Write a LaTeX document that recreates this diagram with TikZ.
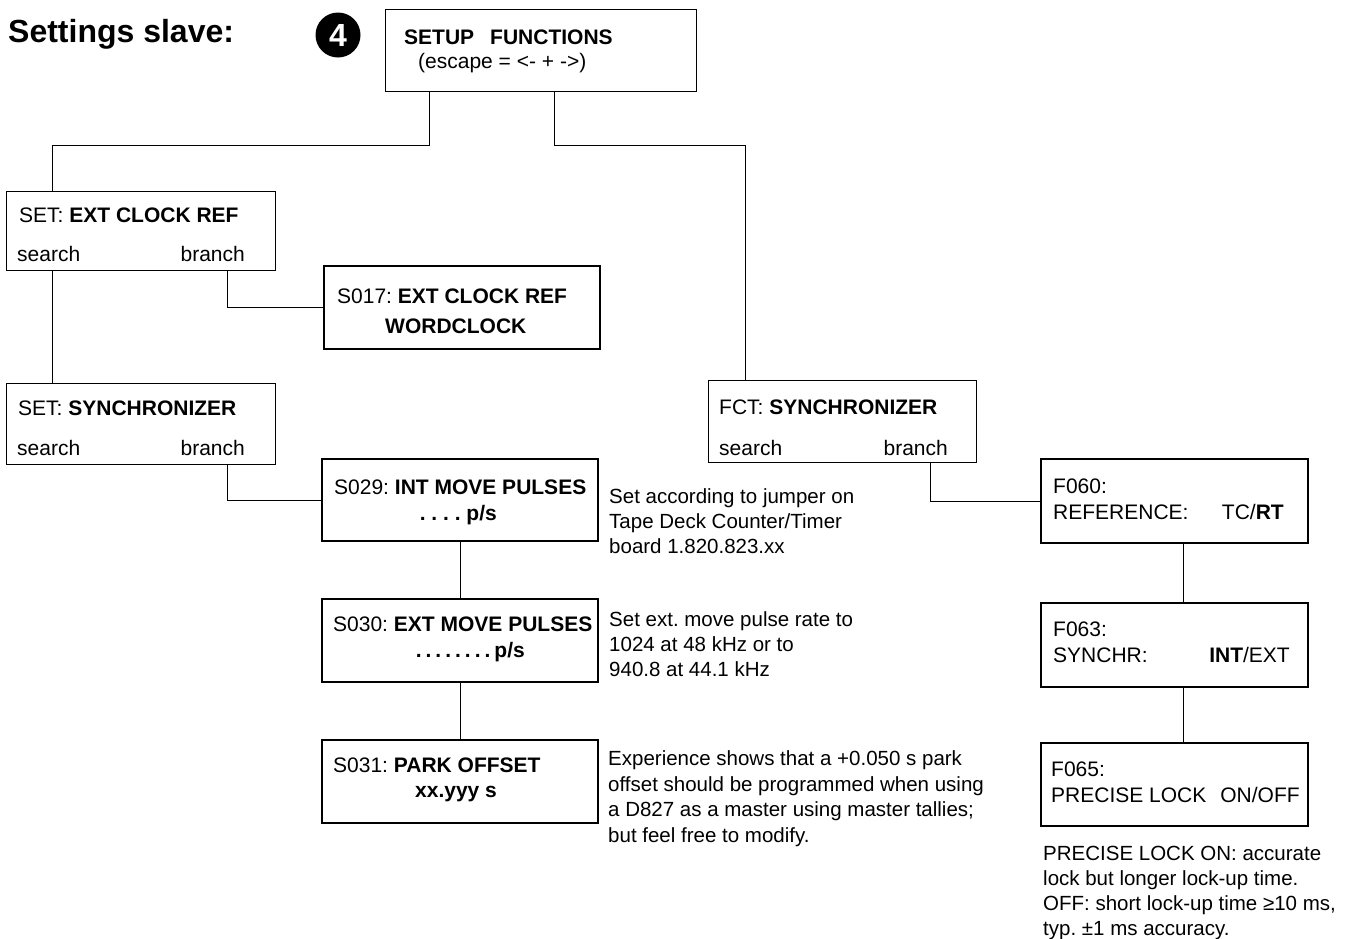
\documentclass[tikz,border=0pt]{standalone}
\usepackage{fontspec}
\setmainfont{Liberation Sans}
\frenchspacing
\begin{document}
\begin{tikzpicture}[x=1pt,y=-1pt,
  thinbox/.style={draw, line width=1pt, inner sep=0pt},
  thickbox/.style={draw, line width=2pt, inner sep=0pt},
  txt/.style={anchor=base west, inner sep=0pt, font=\fontsize{21}{26}\selectfont},
  txtr/.style={anchor=base east, inner sep=0pt, font=\fontsize{21}{26}\selectfont},
  note/.style={anchor=base west, inner sep=0pt, font=\fontsize{20.5}{25.5}\selectfont},
  link/.style={line width=1pt}]
\useasboundingbox (0,0) rectangle (1355,938);

% title
\node[anchor=base west, inner sep=0pt, font=\fontsize{32}{36}\selectfont\bfseries] (title) at (8,42) {Settings slave:};
\node[circle, fill=black, minimum size=45pt, inner sep=0pt, text=white, font=\fontsize{32}{32}\selectfont\bfseries] (num) at (338,35) {4};

% boxes
\node[thinbox, minimum width=311pt, minimum height=82pt] (setup) at (540.5,50) {};
\node[thinbox, minimum width=269pt, minimum height=79pt] (ecr) at (140.5,230.5) {};
\node[thickbox, minimum width=276pt, minimum height=83pt] (s017) at (462,307.5) {};
\node[thinbox, minimum width=269pt, minimum height=81pt] (sync) at (140.5,423.5) {};
\node[thickbox, minimum width=276pt, minimum height=82pt] (s029) at (460,500) {};
\node[thickbox, minimum width=276pt, minimum height=83pt] (s030) at (460,640.5) {};
\node[thickbox, minimum width=276pt, minimum height=83pt] (s031) at (460,781.5) {};
\node[thinbox, minimum width=268pt, minimum height=82pt] (fct) at (842,421) {};
\node[thickbox, minimum width=267pt, minimum height=84pt] (f060) at (1174,501) {};
\node[thickbox, minimum width=267pt, minimum height=84pt] (f063) at (1174,645) {};
\node[thickbox, minimum width=267pt, minimum height=83pt] (f065) at (1174,784.5) {};

% connectors
\draw[link] ([xshift=45pt]setup.south west) -- ++(0,54) -| ([xshift=47pt]ecr.north west);
\draw[link] ([xshift=170pt]setup.south west) -- ++(0,54) -| ([xshift=38pt]fct.north west);
\draw[link] ([xshift=47pt]ecr.south west) -- ([xshift=47pt]sync.north west);
\draw[link] ([xshift=222pt]ecr.south west) |- (s017.west);
\draw[link] ([xshift=222pt]sync.south west) |- (s029.west);
\draw[link] (s029.south) -- (s030.north);
\draw[link] (s030.south) -- (s031.north);
\draw[link] ([xshift=223pt]fct.south west) |- (f060.west);
\draw[link] ([xshift=9pt]f060.south) -- ([xshift=9pt]f063.north);
\draw[link] ([xshift=9pt]f063.south) -- ([xshift=9pt]f065.north);

% box texts
\node[txt] (tsetup1) at (404,44) {\bfseries SETUP\hspace{16pt}FUNCTIONS};
\node[txt] (tsetup2) at (418,68) {(escape = <- + ->)};

\node[txt] (tecr1) at (19,222) {SET: \textbf{EXT CLOCK REF}};
\node[txt] (tecr2) at (17,261) {search};
\node[txtr] (tecr3) at (245,261) {branch};

\node[txt] (ts017a) at (337,303) {S017: \textbf{EXT CLOCK REF}};
\node[txt] (ts017b) at (385,333) {\bfseries WORDCLOCK};

\node[txt] (tsync1) at (18,415) {SET: \textbf{SYNCHRONIZER}};
\node[txt] (tsync2) at (17,455) {search};
\node[txtr] (tsync3) at (245,455) {branch};

\node[txt] (ts029a) at (334,494) {S029: \textbf{INT MOVE PULSES}};
\node[txtr] (ts029b) at (497,520) {\bfseries . . . . p/s};

\node[txt] (ts030a) at (333,631) {S030: \textbf{EXT MOVE PULSES}};
\node[txtr] (ts030b) at (525,657) {\bfseries .\hspace{4pt}.\hspace{4pt}.\hspace{4pt}.\hspace{4pt}.\hspace{4pt}.\hspace{4pt}.\hspace{4pt}.\hspace{4pt}p/s};

\node[txt] (ts031a) at (333,772) {S031: \textbf{PARK OFFSET}};
\node[txt] (ts031b) at (415,797) {\bfseries xx.yyy s};

\node[txt] (tfct1) at (719,414) {FCT: \textbf{SYNCHRONIZER}};
\node[txt] (tfct2) at (719,455) {search};
\node[txtr] (tfct3) at (948,455) {branch};

\node[txt] (tf060a) at (1053,493) {F060:};
\node[txt] (tf060b) at (1053,519) {REFERENCE:};
\node[txtr] (tf060c) at (1284,519) {TC/\textbf{RT}};

\node[txt] (tf063a) at (1053,636) {F063:};
\node[txt] (tf063b) at (1053,662) {SYNCHR:};
\node[txtr] (tf063c) at (1290,662) {\textbf{INT}/EXT};

\node[txt] (tf065a) at (1051,776) {F065:};
\node[txt] (tf065b) at (1051,802) {PRECISE LOCK\hspace{14pt}ON/OFF};

% notes
\node[note] (n1a) at (609,503) {Set according to jumper on};
\node[note] (n1b) at (609,528) {Tape Deck Counter/Timer};
\node[note] (n1c) at (609,553) {board 1.820.823.xx};

\node[note] (n2a) at (609,626) {Set ext. move pulse rate to};
\node[note] (n2b) at (609,651) {1024 at 48 kHz or to};
\node[note] (n2c) at (609,676) {940.8 at 44.1 kHz};

\node[note] (n3a) at (608,765) {Experience shows that a +0.050 s park};
\node[note] (n3b) at (608,791) {offset should be programmed when using};
\node[note] (n3c) at (608,816) {a D827 as a master using master tallies;};
\node[note] (n3d) at (608,842) {but feel free to modify.};

\node[note] (n4a) at (1043,860) {PRECISE LOCK ON: accurate};
\node[note] (n4b) at (1043,885) {lock but longer lock-up time.};
\node[note] (n4c) at (1043,910) {OFF: short lock-up time ≥10 ms,};
\node[note] (n4d) at (1043,935) {typ. ±1 ms accuracy.};
\end{tikzpicture}
\end{document}
